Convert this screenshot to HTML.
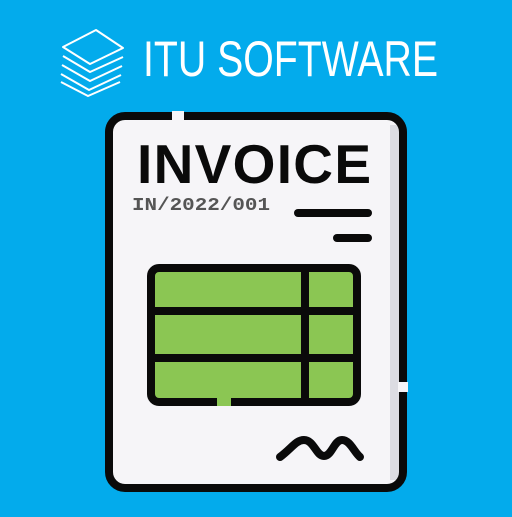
<!DOCTYPE html>
<html><head><style>html,body{margin:0;padding:0;background:#03abec;}</style></head>
<body>
<svg width="512" height="512" viewBox="0 0 512 512" xmlns="http://www.w3.org/2000/svg">
<rect width="512" height="512" fill="#03abec"/>
<g fill="none" stroke="#fff" stroke-width="2" stroke-linejoin="round">
<polygon points="63,47 96,30 123,48 90,64"/>
<polyline points="63,56 90,72 123,57"/>
<polyline points="62,65 90,81 122,66"/>
<polyline points="61,74 89,90 121,75"/>
<polyline points="61,82 88,96 120,82"/>
</g>
<text x="143" y="76" font-family="Liberation Sans, sans-serif" font-size="50" fill="#fff" textLength="295" lengthAdjust="spacingAndGlyphs">ITU SOFTWARE</text>
<rect x="109" y="116" width="294" height="372" rx="16" fill="#f6f5f8"/>
<rect x="390" y="125" width="10" height="355" fill="#dcdce2"/>
<rect x="109" y="116" width="294" height="372" rx="16" fill="none" stroke="#0a0a0a" stroke-width="8"/>
<rect x="172" y="111" width="12" height="10" fill="#f6f5f8"/>
<rect x="398" y="382" width="10" height="10" fill="#f6f5f8"/>
<text x="137" y="183" font-family="Liberation Sans, sans-serif" font-weight="bold" font-size="55" fill="#0a0a0a" textLength="234" lengthAdjust="spacing">INVOICE</text>
<text x="132" y="210" font-family="Liberation Mono, monospace" font-weight="bold" font-size="18" fill="#555" textLength="138" lengthAdjust="spacingAndGlyphs">IN/2022/001</text>
<g stroke="#0a0a0a" stroke-width="8" stroke-linecap="round" fill="none">
<line x1="298" y1="213" x2="368" y2="213"/>
<line x1="337" y1="238" x2="368" y2="238"/>
<path d="M280,457 C292,448 296,440 304,440 C314,440 316,456 324,456 C332,456 334,440 342,440 C350,440 354,452 360,457"/>
</g>
<rect x="151" y="268" width="206" height="134" rx="8" fill="#8bc653" stroke="#0a0a0a" stroke-width="8"/>
<rect x="217" y="397" width="14" height="9" fill="#8bc653"/>
<g stroke="#0a0a0a" stroke-width="8">
<line x1="151" y1="311" x2="357" y2="311"/>
<line x1="151" y1="358" x2="357" y2="358"/>
<line x1="305" y1="268" x2="305" y2="402"/>
</g>
</svg>
</body></html>
